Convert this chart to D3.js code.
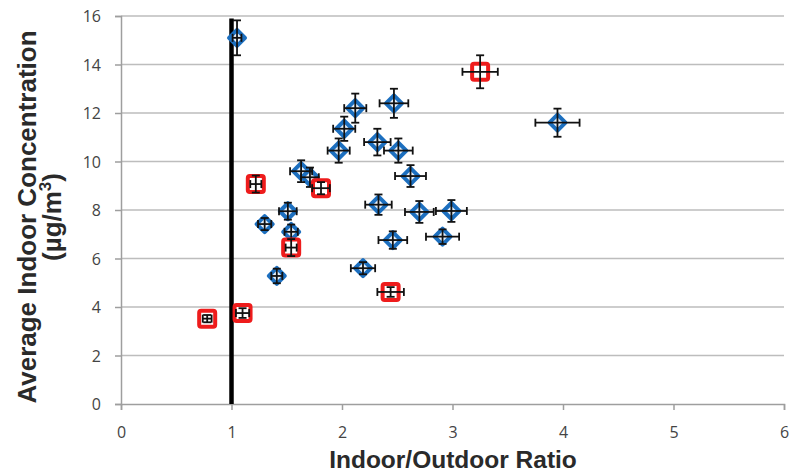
<!DOCTYPE html>
<html>
<head>
<meta charset="utf-8">
<script src="https://cdn.jsdelivr.net/npm/d3@7"></script>
<style>
  html, body { margin: 0; padding: 0; background: #fff; }
  svg { display: block; }
</style>
</head>
<body>
<svg id="chart" width="790" height="472"></svg>
<script>
// Blue diamonds: indoor/outdoor ratio, concentration and their error half-widths
const blueRatio = [1.05, 2.12, 2.47, 2.02, 1.97, 2.32, 2.51, 2.62, 2.33, 2.70, 2.99, 2.46, 2.91, 2.19, 3.95, 1.63, 1.71, 1.30, 1.51, 1.54, 1.41];
const blueConc  = [15.1, 12.2, 12.4, 11.35, 10.45, 10.8, 10.45, 9.4, 8.22, 7.92, 7.96, 6.76, 6.9, 5.6, 11.6, 9.6, 9.35, 7.42, 7.95, 7.1, 5.28];
const blueRatioErr = [0.04, 0.10, 0.13, 0.10, 0.10, 0.12, 0.13, 0.14, 0.12, 0.13, 0.14, 0.13, 0.15, 0.11, 0.20, 0.10, 0.08, 0.06, 0.08, 0.06, 0.05];
const blueConcErr  = [0.72, 0.60, 0.60, 0.50, 0.50, 0.55, 0.50, 0.45, 0.42, 0.45, 0.45, 0.36, 0.30, 0.25, 0.58, 0.45, 0.40, 0.25, 0.35, 0.30, 0.30];

// Red squares
const redRatio = [3.25, 1.81, 1.22, 1.54, 2.44, 1.10, 0.78];
const redConc  = [13.7, 8.9, 9.07, 6.45, 4.62, 3.75, 3.52];
const redRatioErr = [0.16, 0.08, 0.05, 0.05, 0.12, 0.06, 0.04];
const redConcErr  = [0.68, 0.25, 0.35, 0.35, 0.20, 0.20, 0.15];

// Axis ticks and the reference ratio line
const xTicks = [0, 1, 2, 3, 4, 5, 6];
const yTicks = [0, 2, 4, 6, 8, 10, 12, 14, 16];
const refRatio = 1;
const refTop = 15.9;

const svg = d3.select("#chart");
const plotLeft = 121, plotRight = 784, plotTop = 16, plotBottom = 404;

const x = d3.scaleLinear().domain([0, 6]).range([plotLeft, plotRight]);
const y = d3.scaleLinear().domain([0, 16]).range([plotBottom, plotTop]);

// Horizontal gridlines
svg.append("g")
  .selectAll("line")
  .data(yTicks.filter(d => d > 0))
  .join("line")
  .attr("x1", plotLeft).attr("x2", plotRight)
  .attr("y1", d => y(d)).attr("y2", d => y(d))
  .attr("stroke", "#bdbdbd").attr("stroke-width", 1.5);

// Axes
const xAxis = svg.append("g")
  .attr("transform", `translate(0,${plotBottom})`)
  .call(d3.axisBottom(x).tickValues(xTicks).tickSize(6).tickPadding(17).tickFormat(d3.format("d")));
const yAxis = svg.append("g")
  .attr("transform", `translate(${plotLeft},0)`)
  .call(d3.axisLeft(y).tickValues(yTicks).tickSize(6).tickPadding(14).tickFormat(d3.format("d")));

[xAxis, yAxis].forEach(g => {
  g.select(".domain").attr("stroke", "#9e9e9e").attr("stroke-width", 1.5);
  g.selectAll(".tick line").attr("stroke", "#9e9e9e").attr("stroke-width", 1.5);
  g.selectAll(".tick text")
    .attr("fill", "#444")
    .style("font-family", "'Open Sans', 'Liberation Sans', sans-serif")
    .style("font-size", "16px");
});
yAxis.selectAll(".tick text").attr("dy", "0.35em");

// Reference line at ratio = 1
svg.append("line")
  .attr("x1", x(refRatio)).attr("x2", x(refRatio))
  .attr("y1", y(0)).attr("y2", y(refTop))
  .attr("stroke", "#000").attr("stroke-width", 4.5);

function drawSeries(rx, cy, rxe, cye, kind) {
  const data = rx.map((d, i) => ({ r: d, c: cy[i], re: rxe[i], ce: cye[i] }));
  const g = svg.append("g");
  const mark = g.selectAll("g.pt").data(data).join("g")
    .attr("class", "pt")
    .attr("transform", d => `translate(${x(d.r)},${y(d.c)})`);

  if (kind === "diamond") {
    mark.append("path")
      .attr("d", "M0,-8 L8,0 L0,8 L-8,0 Z")
      .attr("fill", "#e9f1fa")
      .attr("stroke", "#1c6fbf")
      .attr("stroke-width", 4)
      .attr("stroke-linejoin", "round");
  } else {
    mark.append("rect")
      .attr("x", -8).attr("y", -8).attr("width", 16).attr("height", 16)
      .attr("rx", 2)
      .attr("fill", "#fff")
      .attr("stroke", "#ee1c1c")
      .attr("stroke-width", 4);
  }

  // Error bars on top of the markers
  const cap = 4;
  const eb = g.selectAll("g.eb").data(data).join("g").attr("class", "eb")
    .attr("stroke", "#111").attr("stroke-width", 1.8);
  eb.append("line")
    .attr("x1", d => x(d.r - d.re)).attr("x2", d => x(d.r + d.re))
    .attr("y1", d => y(d.c)).attr("y2", d => y(d.c));
  eb.append("line")
    .attr("x1", d => x(d.r)).attr("x2", d => x(d.r))
    .attr("y1", d => y(d.c - d.ce)).attr("y2", d => y(d.c + d.ce));
  // caps
  eb.append("line")
    .attr("x1", d => x(d.r - d.re)).attr("x2", d => x(d.r - d.re))
    .attr("y1", d => y(d.c) - cap).attr("y2", d => y(d.c) + cap);
  eb.append("line")
    .attr("x1", d => x(d.r + d.re)).attr("x2", d => x(d.r + d.re))
    .attr("y1", d => y(d.c) - cap).attr("y2", d => y(d.c) + cap);
  eb.append("line")
    .attr("x1", d => x(d.r) - cap).attr("x2", d => x(d.r) + cap)
    .attr("y1", d => y(d.c - d.ce)).attr("y2", d => y(d.c - d.ce));
  eb.append("line")
    .attr("x1", d => x(d.r) - cap).attr("x2", d => x(d.r) + cap)
    .attr("y1", d => y(d.c + d.ce)).attr("y2", d => y(d.c + d.ce));
}

drawSeries(blueRatio, blueConc, blueRatioErr, blueConcErr, "diamond");
drawSeries(redRatio, redConc, redRatioErr, redConcErr, "square");

// Axis titles
svg.append("text")
  .attr("x", 453).attr("y", 468)
  .attr("text-anchor", "middle")
  .attr("fill", "#2a2a2a")
  .style("font-family", "'Liberation Sans', Arial, sans-serif")
  .style("font-weight", "bold")
  .style("font-size", "24.5px")
  .text("Indoor/Outdoor Ratio");

const yt = svg.append("text")
  .attr("transform", "translate(0,217) rotate(-90)")
  .attr("text-anchor", "middle")
  .attr("fill", "#2a2a2a")
  .style("font-family", "'Liberation Sans', Arial, sans-serif")
  .style("font-weight", "bold")
  .style("font-size", "26px");
yt.append("tspan").attr("x", 0).attr("y", 36).text("Average Indoor Concentration");
const t2 = yt.append("tspan").attr("x", 0).attr("y", 61);
t2.append("tspan").text("(µg/m");
t2.append("tspan").attr("dy", -10).style("font-size", "17px").text("3");
t2.append("tspan").attr("dy", 10).text(")");
</script>
</body>
</html>
